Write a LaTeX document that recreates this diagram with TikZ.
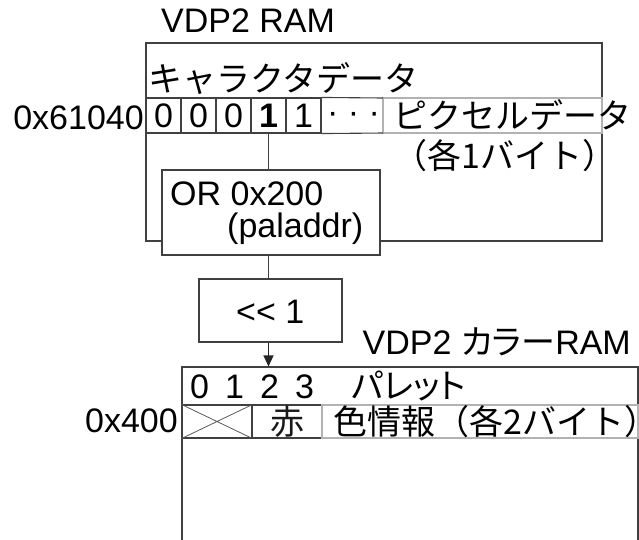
\documentclass[tikz,border=0pt]{standalone}
\usepackage{fontspec}
\setmainfont{Liberation Sans}[Ligatures=TeXOff]
\newfontfamily\jp{Noto Sans CJK JP}
\newfontfamily\jpp{Noto Sans CJK JP}[RawFeature=+palt]
\usetikzlibrary{arrows.meta}
\tikzset{
  txt/.style={inner sep=0pt, anchor=base west, font=\fontsize{34}{40}\selectfont},
  jtxt/.style={txt, font=\fontsize{34}{40}\selectfont\jp},
  boxline/.style={draw=black!75, line width=1.1pt},
  cell/.style={boxline, minimum width=35pt, minimum height=35pt, inner sep=0pt, font=\fontsize{34}{40}\selectfont},
  ccell/.style={boxline, minimum width=70pt, minimum height=33pt, inner sep=0pt, font=\fontsize{34}{40}\selectfont\jp},
  lite/.style={draw=black!30, line width=1.1pt},
  opbox/.style={boxline, fill=white, inner sep=0pt},
}
\begin{document}
\begin{tikzpicture}[x=1pt, y=-1pt]
\useasboundingbox (0,0) rectangle (639,539);
% VDP2 RAM box
\node[boxline, minimum width=456pt, minimum height=198pt, inner sep=0pt] (ram) at (374,142) {};
\node[txt] (t1) at (161,32) {VDP2 RAM};
\node[jtxt] (t2) at (148,91) {キャラクタデータ};
\node[txt, anchor=base east] (t3) at (144,129) {0x61040};
% cells
\node[cell] (c1) at (163.5,115.5) {0};
\node[cell] (c2) at (198.5,115.5) {0};
\node[cell] (c3) at (233.5,115.5) {0};
\node[cell, font=\fontsize{34}{40}\selectfont\bfseries] (c4) at (268.5,115.5) {1};
\node[cell] (c5) at (303.5,115.5) {1};
\node[lite, minimum width=219pt, minimum height=35pt, inner sep=0pt] (pd) at (492.5,115.5) {};
\coordinate (r1) at (383,98);
\coordinate (r2) at (383,133);
\draw[boxline] (c5.north east) -- (r1);
\draw[boxline] (c5.south east) -- (r2);
\node[txt] (t4a) at (327,123) {· · ·};
\node[jtxt] (t4) at (393,128) {ピクセルデータ};
\node[jtxt] (t5) at (393,168) {（各1バイト）};
% OR box
\node[opbox, minimum width=218pt, minimum height=85pt] (orbox) at (271,212.5) {};
\node[txt] (t6) at (170,205) {OR 0x200};
\node[txt] (t7) at (227,237) {(paladdr)};
\draw[boxline] (c4.south) -- (c4.south |- orbox.north);
% shift box
\node[opbox, minimum width=143pt, minimum height=63pt] (sh) at (270.5,310.5) {};
\node[txt] (t8) at (236,323) {<< 1};
\draw[boxline] (c4.south |- orbox.south) -- (c4.south |- sh.north);
% color RAM
\node[boxline, minimum width=456pt, minimum height=220pt, inner sep=0pt] (cram) at (410,477) {};
\draw[boxline, draw=black!85, -{Triangle[length=11pt, width=10pt]}] (c4.south |- sh.south) -- (c4.south |- cram.north);
\node[txt, anchor=base east] (t9) at (631,354) {VDP2 \jpp カラー\rmfamily RAM};
\node[txt, anchor=base] (d0) at (199.5,398) {0};
\node[txt, anchor=base] (d1) at (234.5,398) {1};
\node[txt, anchor=base] (d2) at (269.5,398) {2};
\node[txt, anchor=base] (d3) at (304.5,398) {3};
\node[txt, font=\fontsize{34}{40}\selectfont\jpp] (t10) at (351,398) {パレット};
\node[txt, anchor=base east] (t11) at (178,432) {0x400};
\node[ccell] (x1) at (217,421.5) {};
\draw[draw=black!65, line width=0.8pt] (x1.north west) -- (x1.south east) (x1.south west) -- (x1.north east);
\node[ccell, text=black!90] (red) at (287,421.5) {赤};
\node[lite, minimum width=316pt, minimum height=33pt, inner sep=0pt] (cd) at (480,421.5) {};
\node[jtxt] (t12) at (333,434) {色情報（各2バイト）};
\end{tikzpicture}
\end{document}
